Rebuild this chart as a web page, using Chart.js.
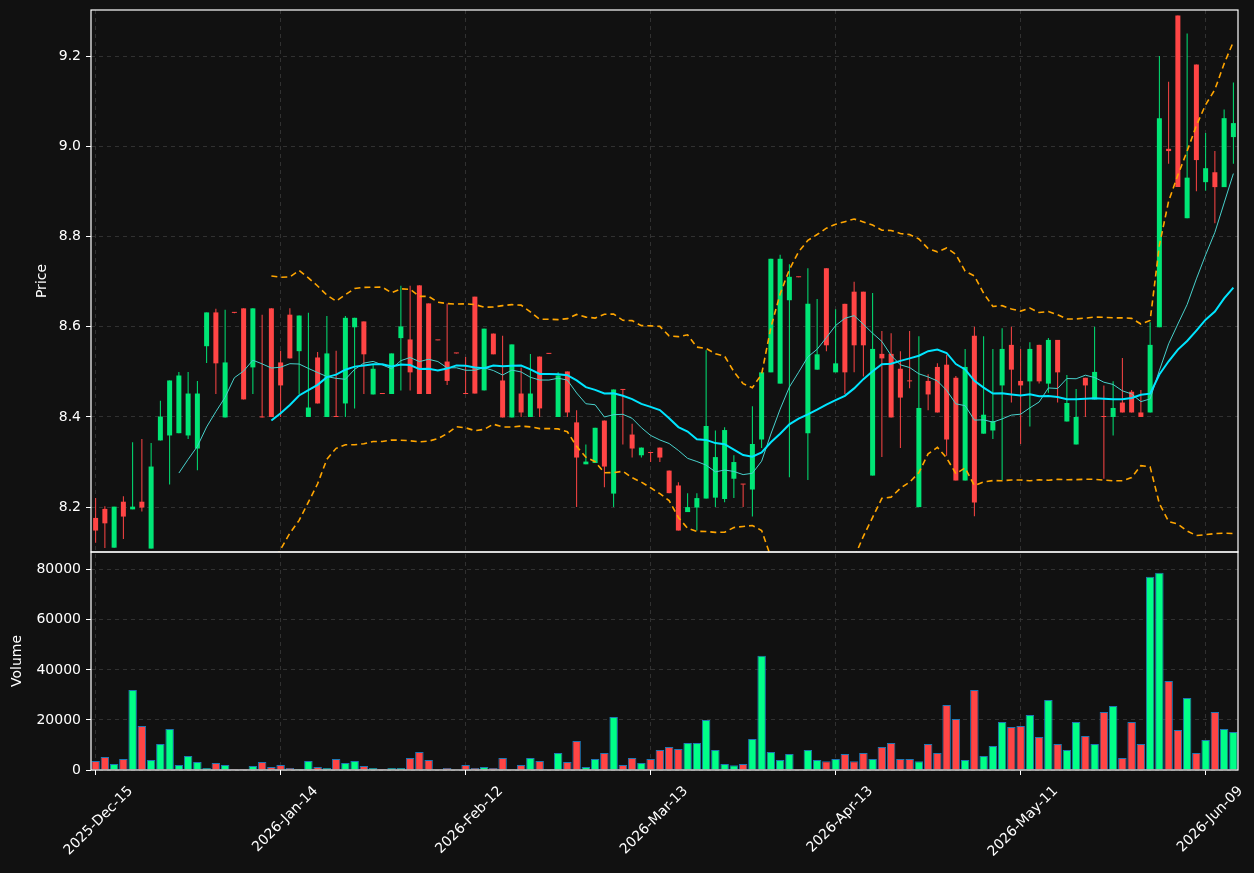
<!DOCTYPE html>
<html>
<head>
<meta charset="utf-8">
<script src="https://cdn.jsdelivr.net/npm/chart.js@4.4.1/dist/chart.umd.min.js"></script>
<style>
html,body{margin:0;padding:0;background:#111111;}
canvas{display:block;}
</style>
</head>
<body>
<canvas id="c" width="1254" height="873"></canvas>
<script>
const dates = [
'2025-Dec-15','2025-Dec-16','2025-Dec-17','2025-Dec-18','2025-Dec-19','2025-Dec-22','2025-Dec-23','2025-Dec-24','2025-Dec-26','2025-Dec-29','2025-Dec-30','2025-Dec-31',
'2026-Jan-02','2026-Jan-05','2026-Jan-06','2026-Jan-07','2026-Jan-08','2026-Jan-09','2026-Jan-12','2026-Jan-13','2026-Jan-14',
'2026-Jan-15','2026-Jan-16','2026-Jan-20','2026-Jan-21','2026-Jan-22','2026-Jan-23','2026-Jan-26','2026-Jan-27','2026-Jan-28','2026-Jan-29','2026-Jan-30',
'2026-Feb-02','2026-Feb-03','2026-Feb-04','2026-Feb-05','2026-Feb-06','2026-Feb-09','2026-Feb-10','2026-Feb-11','2026-Feb-12',
'2026-Feb-13','2026-Feb-17','2026-Feb-18','2026-Feb-19','2026-Feb-20','2026-Feb-23','2026-Feb-24','2026-Feb-25','2026-Feb-26','2026-Feb-27',
'2026-Mar-02','2026-Mar-03','2026-Mar-04','2026-Mar-05','2026-Mar-06','2026-Mar-09','2026-Mar-10','2026-Mar-11','2026-Mar-12','2026-Mar-13',
'2026-Mar-16','2026-Mar-17','2026-Mar-18','2026-Mar-19','2026-Mar-20','2026-Mar-23','2026-Mar-24','2026-Mar-25','2026-Mar-26','2026-Mar-27','2026-Mar-30','2026-Mar-31',
'2026-Apr-01','2026-Apr-02','2026-Apr-06','2026-Apr-07','2026-Apr-08','2026-Apr-09','2026-Apr-10','2026-Apr-13',
'2026-Apr-14','2026-Apr-15','2026-Apr-16','2026-Apr-17','2026-Apr-20','2026-Apr-21','2026-Apr-22','2026-Apr-23','2026-Apr-24','2026-Apr-27','2026-Apr-28','2026-Apr-29','2026-Apr-30',
'2026-May-01','2026-May-04','2026-May-05','2026-May-06','2026-May-07','2026-May-08','2026-May-11',
'2026-May-12','2026-May-13','2026-May-14','2026-May-15','2026-May-18','2026-May-19','2026-May-20','2026-May-21','2026-May-22','2026-May-26','2026-May-27','2026-May-28','2026-May-29',
'2026-Jun-01','2026-Jun-02','2026-Jun-03','2026-Jun-04','2026-Jun-05','2026-Jun-08','2026-Jun-09',
'2026-Jun-10','2026-Jun-11','2026-Jun-12'
];

const open = [
8.176,8.196,8.110,8.212,8.195,8.212,8.108,8.348,8.359,8.364,
8.359,8.330,8.557,8.632,8.399,8.632,8.641,8.510,8.401,8.641,
8.521,8.627,8.546,8.400,8.532,8.400,8.401,8.430,8.599,8.612,
8.450,8.452,8.451,8.575,8.572,8.692,8.652,8.571,8.523,8.542,
8.452,8.667,8.459,8.585,8.481,8.399,8.452,8.400,8.534,8.541,
8.400,8.501,8.388,8.295,8.298,8.392,8.230,8.462,8.361,8.315,
8.321,8.332,8.281,8.248,8.189,8.199,8.219,8.221,8.218,8.263,
8.251,8.239,8.350,8.499,8.474,8.659,8.711,8.364,8.505,8.730,
8.499,8.651,8.678,8.678,8.270,8.540,8.540,8.507,8.480,8.200,
8.480,8.511,8.516,8.487,8.259,8.580,8.363,8.370,8.470,8.560,
8.480,8.479,8.560,8.474,8.571,8.390,8.339,8.487,8.439,8.401,
8.400,8.432,8.456,8.410,8.410,8.599,8.995,9.291,8.841,9.182,
8.921,8.943,8.910,9.021
];
const high = [
8.220,8.202,8.201,8.224,8.344,8.351,8.342,8.436,8.481,8.500,
8.500,8.480,8.632,8.640,8.638,8.633,8.641,8.641,8.627,8.641,
8.547,8.641,8.625,8.631,8.544,8.624,8.547,8.624,8.620,8.612,
8.518,8.452,8.541,8.691,8.691,8.692,8.652,8.571,8.652,8.542,
8.533,8.667,8.596,8.585,8.580,8.561,8.510,8.540,8.534,8.541,
8.499,8.501,8.415,8.339,8.376,8.392,8.461,8.462,8.385,8.332,
8.321,8.332,8.281,8.255,8.231,8.231,8.548,8.370,8.377,8.315,
8.251,8.424,8.499,8.751,8.760,8.739,8.711,8.730,8.662,8.730,
8.639,8.651,8.700,8.678,8.675,8.591,8.586,8.546,8.591,8.579,
8.495,8.519,8.538,8.491,8.551,8.600,8.579,8.551,8.597,8.600,
8.551,8.566,8.560,8.575,8.571,8.493,8.462,8.487,8.600,8.470,
8.479,8.531,8.460,8.460,8.610,9.201,9.144,9.291,9.251,9.182,
9.030,8.990,9.082,9.142
];
const low = [
8.121,8.109,8.110,8.129,8.195,8.190,8.108,8.348,8.250,8.364,
8.351,8.282,8.520,8.451,8.399,8.630,8.439,8.451,8.399,8.400,
8.400,8.530,8.451,8.400,8.430,8.400,8.400,8.400,8.419,8.451,
8.450,8.451,8.451,8.459,8.459,8.451,8.451,8.570,8.471,8.541,
8.451,8.452,8.459,8.539,8.399,8.399,8.400,8.400,8.400,8.540,
8.400,8.400,8.200,8.295,8.298,8.244,8.200,8.339,8.310,8.310,
8.300,8.300,8.231,8.148,8.189,8.148,8.219,8.200,8.211,8.220,
8.200,8.179,8.331,8.499,8.474,8.266,8.710,8.260,8.505,8.546,
8.499,8.451,8.499,8.490,8.270,8.311,8.399,8.331,8.464,8.200,
8.415,8.410,8.314,8.259,8.259,8.180,8.363,8.351,8.260,8.432,
8.340,8.379,8.474,8.454,8.432,8.390,8.339,8.400,8.439,8.263,
8.359,8.410,8.410,8.400,8.410,8.599,8.962,8.910,8.841,8.901,
8.902,8.830,8.910,8.962
];
const close = [
8.148,8.164,8.201,8.179,8.201,8.199,8.290,8.401,8.481,8.492,
8.452,8.452,8.632,8.519,8.521,8.631,8.439,8.641,8.399,8.400,
8.470,8.530,8.625,8.421,8.430,8.541,8.400,8.620,8.620,8.539,
8.507,8.451,8.541,8.601,8.499,8.451,8.451,8.570,8.480,8.541,
8.451,8.452,8.596,8.539,8.399,8.561,8.410,8.452,8.419,8.540,
8.492,8.410,8.310,8.301,8.376,8.290,8.461,8.460,8.330,8.332,
8.320,8.310,8.231,8.148,8.200,8.220,8.380,8.311,8.371,8.300,
8.250,8.340,8.499,8.751,8.751,8.711,8.710,8.651,8.539,8.559,
8.519,8.499,8.559,8.559,8.551,8.530,8.399,8.443,8.479,8.420,
8.450,8.410,8.350,8.259,8.511,8.210,8.405,8.391,8.551,8.505,
8.470,8.551,8.479,8.571,8.499,8.431,8.400,8.470,8.500,8.400,
8.420,8.410,8.410,8.400,8.560,9.063,8.990,8.910,8.931,8.970,
8.952,8.910,9.063,9.052
];
const volume = [
3600,5200,2400,4400,32000,17600,4000,10400,16400,2000,
5600,3200,800,2800,2000,400,400,1600,3200,1200,
2000,800,400,3600,1200,800,4400,2800,3600,1600,
800,400,800,800,4800,7200,4000,300,800,300,
2000,800,1200,800,4800,300,2000,4800,3600,300,
6800,3200,11600,1200,4400,6800,21200,2000,4800,2800,
4400,8000,9200,8400,10800,10800,20000,8000,2400,1900,
2400,12400,45600,7200,4000,6400,100,8000,4000,3500,
4400,6400,3500,6800,4400,9200,10800,4400,4400,3500,
10400,6800,26000,20400,4000,32000,5600,9600,19200,17200,
17600,22000,13200,28000,10400,8000,19200,13600,10400,23200,
25600,4800,19200,10400,77200,78800,35600,16000,28800,6800,
12000,23200,16400,15200
];

const xTickLabels = ['2025-Dec-15','2026-Jan-14','2026-Feb-12','2026-Mar-13','2026-Apr-13','2026-May-11','2026-Jun-09'];
const priceTicks = [8.2, 8.4, 8.6, 8.8, 9.0, 9.2];
const volumeTicks = [0, 20000, 40000, 60000, 80000];

// derived indicators (simple moving averages of the close, Bollinger bands 20, 2)
function sma(src, n) {
  return src.map((_, i) => i < n - 1 ? null : src.slice(i - n + 1, i + 1).reduce((a, b) => a + b, 0) / n);
}
function band(src, n, k) {
  const m = sma(src, n);
  return src.map((_, i) => {
    if (m[i] === null) return null;
    const w = src.slice(i - n + 1, i + 1);
    const v = w.reduce((a, b) => a + (b - m[i]) * (b - m[i]), 0) / n;
    return m[i] + k * Math.sqrt(v);
  });
}
const ma10 = sma(close, 10);
const ma20 = sma(close, 20);
const bbUp = band(close, 20, 2);
const bbLo = band(close, 20, -2);

const UP = '#00e676', DOWN = '#ff4545', VUP = '#00ff88', VDOWN = '#ff4545';
const isUp = close.map((c, i) => c >= open[i]);
const candleColors = isUp.map(u => u ? UP : DOWN);
const volColors = isUp.map(u => u ? VUP : VDOWN);

const GRID = '#3a3a3a';
const FONT = {family: 'DejaVu Sans', size: 14};

const clipPlugin = {
  id: 'panelClip',
  beforeDatasetDraw(chart, args) {
    const s = chart.scales[args.meta.yAxisID];
    const a = chart.chartArea;
    chart.ctx.save();
    chart.ctx.beginPath();
    chart.ctx.rect(a.left, s.top, a.right - a.left, s.bottom - s.top);
    chart.ctx.clip();
  },
  afterDatasetDraw(chart) { chart.ctx.restore(); }
};
const framePlugin = {
  id: 'frames',
  afterDraw(chart) {
    const ctx = chart.ctx, a = chart.chartArea;
    ctx.save();
    ctx.strokeStyle = '#ffffff';
    ctx.lineWidth = 1.2;
    ['y', 'yv'].forEach(id => {
      const s = chart.scales[id];
      ctx.strokeRect(a.left, s.top, a.right - a.left, s.bottom - s.top);
    });
    ctx.restore();
  }
};
function fitY(s) { s.width = 91; s.paddingTop = 0; s.paddingBottom = 0; }

new Chart(document.getElementById('c'), {
  type: 'bar',
  data: {
    labels: dates,
    datasets: [
      {type: 'line', label: 'MA20', data: ma20, yAxisID: 'y', borderColor: '#00e5ff', borderWidth: 2, pointRadius: 0, fill: false, tension: 0, order: 0},
      {type: 'line', label: 'MA10', data: ma10, yAxisID: 'y', borderColor: '#48d1cc', borderWidth: 1, pointRadius: 0, fill: false, tension: 0, order: 1},
      {type: 'line', label: 'BB upper', data: bbUp, yAxisID: 'y', borderColor: '#ffa500', borderWidth: 1.6, borderDash: [6, 4], pointRadius: 0, fill: false, tension: 0, order: 2},
      {type: 'line', label: 'BB lower', data: bbLo, yAxisID: 'y', borderColor: '#ffa500', borderWidth: 1.6, borderDash: [6, 4], pointRadius: 0, fill: false, tension: 0, order: 3},
      {label: 'body', data: dates.map((_, i) => [open[i], close[i]]), yAxisID: 'y', backgroundColor: candleColors, barThickness: 5, minBarLength: 1, grouped: false, inflateAmount: 0, order: 4},
      {label: 'wick', data: dates.map((_, i) => [low[i], high[i]]), yAxisID: 'y', backgroundColor: candleColors, barThickness: 1, grouped: false, inflateAmount: 0, order: 5},
      {label: 'Volume', data: volume, yAxisID: 'yv', backgroundColor: volColors, borderColor: '#1f77b4', borderWidth: 1, barPercentage: 0.92, categoryPercentage: 1.0, grouped: false, order: 6}
    ]
  },
  options: {
    responsive: false,
    animation: false,
    layout: {padding: {top: 10, right: 16, left: 0, bottom: 0}},
    plugins: {legend: {display: false}, tooltip: {enabled: false}},
    scales: {
      x: {
        type: 'category',
        offset: true,
        grid: {offset: false, color: GRID, lineWidth: 0.8, tickLength: 5, tickColor: '#ffffff', tickWidth: 1, tickBorderDash: []},
        border: {display: false, dash: [4, 4]},
        ticks: {autoSkip: false, minRotation: 45, maxRotation: 45, color: '#ffffff', font: FONT, padding: 8, labelOffset: 35},
        afterBuildTicks: s => { s.ticks = s.ticks.filter(t => xTickLabels.includes(dates[t.value])); },
        afterFit: s => { s.height = 103; s.paddingLeft = 0; s.paddingRight = 0; }
      },
      yv: {
        type: 'linear', position: 'left', stack: 'panels', stackWeight: 218,
        min: 0, max: 87100,
        afterBuildTicks: s => { s.ticks = volumeTicks.map(v => ({value: v})); },
        ticks: {color: '#ffffff', font: FONT, padding: 5, callback: v => String(v)},
        grid: {color: GRID, lineWidth: 0.8, tickLength: 5, tickColor: '#ffffff', tickWidth: 1, tickBorderDash: []},
        border: {display: false, dash: [4, 4]},
        title: {display: true, text: 'Volume', color: '#ffffff', font: FONT, padding: {top: 9, bottom: 0}},
        afterFit: fitY
      },
      y: {
        type: 'linear', position: 'left', stack: 'panels', stackWeight: 542,
        min: 8.1004, max: 9.303,
        afterBuildTicks: s => { s.ticks = priceTicks.map(v => ({value: v})); },
        ticks: {color: '#ffffff', font: FONT, padding: 5, callback: v => Number(v).toFixed(1)},
        grid: {color: GRID, lineWidth: 0.8, tickLength: 5, tickColor: '#ffffff', tickWidth: 1, tickBorderDash: []},
        border: {display: false, dash: [4, 4]},
        title: {display: true, text: 'Price', color: '#ffffff', font: FONT, padding: {top: 34, bottom: 0}},
        afterFit: fitY
      }
    }
  },
  plugins: [clipPlugin, framePlugin]
});
</script>
</body>
</html>
